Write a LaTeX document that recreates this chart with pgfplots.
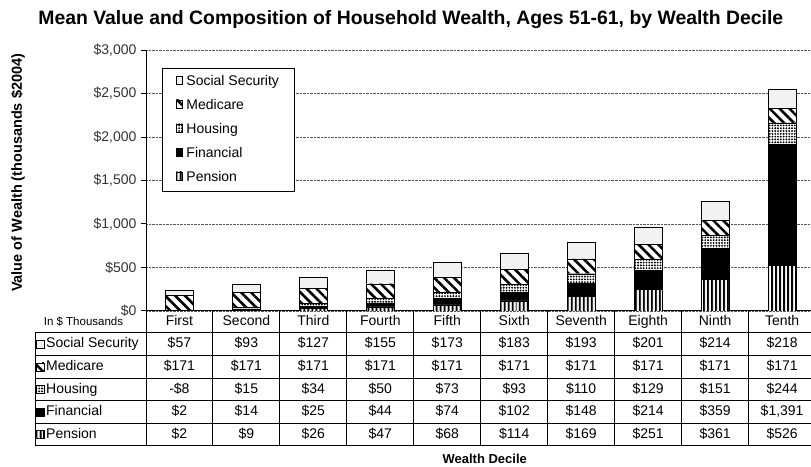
\documentclass[border=0pt]{standalone}
\usepackage{pgfplots}
\pgfplotsset{compat=1.18}
\usepackage{fontspec}
\setmainfont{Liberation Sans}
\usetikzlibrary{patterns.meta}

\pgfplotstableread{
x pension financial housing medicare social
0 2 2 -8 171 57
1 9 14 15 171 93
2 26 25 34 171 127
3 47 44 50 171 155
4 68 74 73 171 173
5 114 102 93 171 183
6 169 148 110 171 193
7 251 214 129 171 201
8 361 359 151 171 214
9 526 1391 244 171 218
}\wealth

\tikzset{
  pensionsty/.style={draw=black, fill=white, postaction={pattern={Lines[angle=90,distance=4pt,line width=2pt]}}},
  financialsty/.style={draw=black, fill=black},
  housingsty/.style={draw=black, fill=white, postaction={pattern={Dots[distance=2.8pt,radius=1.05pt]}}},
  medicaresty/.style={draw=black, fill=white, postaction={pattern={Lines[angle=-45,distance=7pt,line width=2.6pt]}}},
  socialsty/.style={draw=black, fill=black!5},
  cell/.style={font=\tfont, text height=10.5pt, text depth=3pt},
}
\newcommand{\tfont}{\fontsize{14}{16}\selectfont}

\begin{document}
\begin{tikzpicture}[x=1pt,y=1pt]
\path (0,0) rectangle (811,466);
\begin{axis}[
  at={(146pt,155pt)}, anchor=south west,
  scale only axis, width=665pt, height=261pt,
  xmin=-0.5, xmax=9.4254, ymin=0, ymax=3000,
  ybar stacked, bar width=28pt,
  xtick=\empty,
  ytick={0,500,...,3000},
  yticklabel={\$\pgfmathprintnumber{\tick}},
  /pgf/number format/assume math mode=true,
  /pgf/number format/1000 sep={,},
  axis x line*=bottom, axis y line*=left,
  axis line style={black, line width=0.8pt},
  ymajorgrids, grid style={densely dotted, black!65, line width=0.6pt},
  tick align=outside, major tick length=5pt, tick style={black, line width=0.8pt},
  yticklabel style={font=\fontsize{14}{16}\selectfont, text=black!80, xshift=-1pt},
  legend style={at={(0.024,0.931)}, anchor=north west, draw=black, fill=white,
    font=\tfont, row sep=8.5pt, inner xsep=14pt, inner ysep=6pt,
    nodes={inner sep=1pt, text height=10.5pt, text depth=3pt},
    /tikz/every odd column/.append style={column sep=3pt}},
  legend cell align=left,
  reverse legend,
]
\addplot+[pensionsty] table[x=x, y=pension] {\wealth};
\addlegendentry{Pension}
\addplot+[financialsty] table[x=x, y=financial] {\wealth};
\addlegendentry{Financial}
\addplot+[housingsty] table[x=x, y=housing] {\wealth};
\addlegendentry{Housing}
\addplot+[medicaresty] table[x=x, y=medicare] {\wealth};
\addlegendentry{Medicare}
\addplot+[socialsty] table[x=x, y=social] {\wealth};
\addlegendentry{Social Security}
\end{axis}

% titles
\node[font=\bfseries\fontsize{19.4}{21}\selectfont] at (411,446) {Mean Value and Composition of Household Wealth, Ages 51-61, by Wealth Decile};
\node[font=\bfseries\fontsize{14.5}{16}\selectfont, rotate=90] at (18,293) {Value of Wealth (thousands \$2004)};
\node[font=\bfseries\fontsize{13}{15}\selectfont] at (485,7) {Wealth Decile};

% data table grid
\draw[black, line width=0.8pt] (35,133) -- (811,133);
\foreach \yy in {110.4,87.8,65.2,42.6,20} \draw[black, line width=0.8pt] (35,\yy) -- (811,\yy);
\draw[black, line width=0.8pt] (35,133) -- (35,20);
\foreach \k in {0,...,9} \draw[black, line width=0.8pt] ({146+67*\k},155) -- ({146+67*\k},20);

% header row
\node[font=\fontsize{11.5}{13}\selectfont] at (83.5,144) {In \$ Thousands};
\foreach \c [count=\i from 0] in {First,Second,Third,Fourth,Fifth,Sixth,Seventh,Eighth,Ninth,Tenth}
  \node[cell] at ({179.5+67*\i},144) {\c};

% row labels
\foreach \nm/\st/\yc in {Social Security/socialsty/121.7, Medicare/medicaresty/99.1, Housing/housingsty/76.5, Financial/financialsty/53.9, Pension/pensionsty/31.3}{
  \draw[\st] (36.5,\yc-4) rectangle (44,\yc+4);
  \node[cell, anchor=west, inner sep=0pt] at (46,\yc) {\nm};
}

% values
\foreach \v [count=\i from 0] in {{\$57},{\$93},{\$127},{\$155},{\$173},{\$183},{\$193},{\$201},{\$214},{\$218}}
  \node[cell] at ({179.5+67*\i},121.7) {\v};
\foreach \v [count=\i from 0] in {{\$171},{\$171},{\$171},{\$171},{\$171},{\$171},{\$171},{\$171},{\$171},{\$171}}
  \node[cell] at ({179.5+67*\i},99.1) {\v};
\foreach \v [count=\i from 0] in {{-\$8},{\$15},{\$34},{\$50},{\$73},{\$93},{\$110},{\$129},{\$151},{\$244}}
  \node[cell] at ({179.5+67*\i},76.5) {\v};
\foreach \v [count=\i from 0] in {{\$2},{\$14},{\$25},{\$44},{\$74},{\$102},{\$148},{\$214},{\$359},{\$1,391}}
  \node[cell] at ({179.5+67*\i},53.9) {\v};
\foreach \v [count=\i from 0] in {{\$2},{\$9},{\$26},{\$47},{\$68},{\$114},{\$169},{\$251},{\$361},{\$526}}
  \node[cell] at ({179.5+67*\i},31.3) {\v};
\end{tikzpicture}
\end{document}
